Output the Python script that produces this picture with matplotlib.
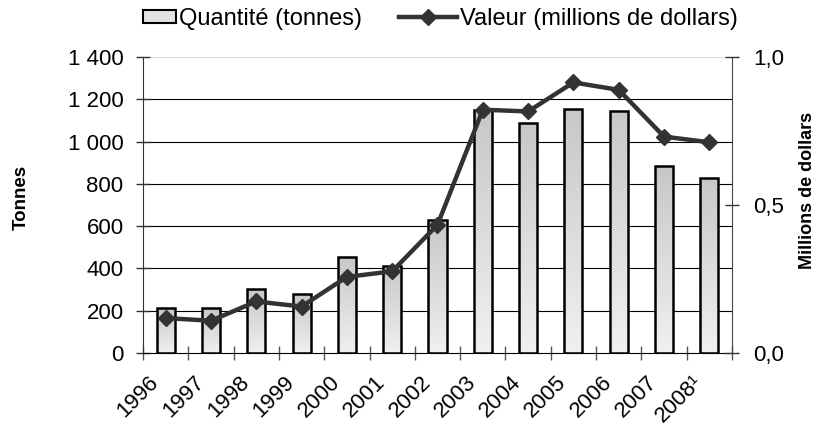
import numpy as np
import matplotlib.pyplot as plt
import matplotlib.transforms as mtransforms
from matplotlib.patches import Rectangle
from matplotlib.lines import Line2D
from matplotlib.legend_handler import HandlerPatch

plt.rcParams['font.family'] = ['Liberation Sans', 'DejaVu Sans']

years = ["1996", "1997", "1998", "1999", "2000", "2001", "2002",
         "2003", "2004", "2005", "2006", "2007", "2008¹"]
tonnes = [212, 215, 302, 280, 455, 412, 628, 1147, 1088, 1155, 1145, 883, 829]
valeur = [0.118, 0.109, 0.174, 0.157, 0.257, 0.276, 0.433,
          0.822, 0.816, 0.914, 0.889, 0.731, 0.712]

fig = plt.figure(figsize=(8.2, 4.33), dpi=100)
ax = fig.add_axes([143 / 820, 80 / 433, 589 / 820, 296 / 433])
ax2 = ax.twinx()

x = np.arange(len(years))
bar_w = 0.40

# bars with a vertical grey gradient (light at the base, darker on top)
grad = np.linspace(0.94, 0.78, 256).reshape(-1, 1)
bars = ax.bar(x, tonnes, width=bar_w, facecolor='none', edgecolor='black',
              linewidth=1.8, zorder=3)
for b in bars:
    x0, y0 = b.get_x(), b.get_y()
    im = ax.imshow(grad, cmap='gray', vmin=0, vmax=1, aspect='auto',
                   origin='lower', extent=(x0, x0 + b.get_width(), y0, y0 + b.get_height()),
                   zorder=2, interpolation='bilinear')
    im.set_clip_path(b)

ax2.plot(x, valeur, color='#333333', linewidth=3.2, marker='D', markersize=8,
         markerfacecolor='#333333', markeredgecolor='#333333', zorder=5)

# left axis
ax.set_xlim(-0.5, len(years) - 0.5)
ax.set_ylim(0, 1400)
ax.set_yticks(np.arange(0, 1401, 200))
ax.set_yticklabels([f"{v:,}".replace(",", " ") for v in range(0, 1401, 200)])
ax.set_axisbelow(True)
ax.yaxis.grid(True, color='black', linewidth=0.8)
ax.get_ygridlines()[-1].set_color('#dddddd')
ax.get_ygridlines()[0].set_visible(False)

ax.set_xticks(x)
ax.set_xticklabels(years, rotation=45, ha='right', va='center', rotation_mode='anchor')
ax.set_xticks(np.arange(-0.5, len(years), 1), minor=True)
ax.tick_params(axis='x', which='major', length=0, pad=19, labelsize=16)
ax.tick_params(axis='x', which='minor', direction='inout', length=10, width=1, color='#555555')
ax.tick_params(axis='y', direction='inout', length=10, width=1, pad=9, labelsize=16, color='#333333')
offset = mtransforms.ScaledTranslation(-0.10, 0, fig.dpi_scale_trans)
for lab in ax.get_xticklabels():
    lab.set_transform(lab.get_transform() + offset)

for s in ['top', 'right']:
    ax.spines[s].set_visible(False)
ax.spines['left'].set_color('#333333')
ax.spines['bottom'].set_color('black')

# right axis
ax2.set_ylim(0, 1.0)
ax2.set_yticks([0, 0.5, 1.0])
ax2.set_yticklabels([f"{v:.1f}".replace(".", ",") for v in [0, 0.5, 1.0]])
ax2.tick_params(axis='y', direction='inout', length=10, width=1, pad=10, labelsize=16, color='#333333')
for s in ['top', 'left', 'bottom']:
    ax2.spines[s].set_visible(False)
ax2.spines['right'].set_color('#444444')

fig.text(21 / 820, 1 - 197 / 433, "Tonnes", rotation=90, fontsize=13.5,
         fontweight='bold', ha='center', va='center')
fig.text(808 / 820, 1 - 190 / 433, "Millions de dollars", rotation=90, fontsize=13,
         fontweight='bold', ha='center', va='center')


def small_rect(legend, orig_handle, xdescent, ydescent, width, height, fontsize):
    w = width * 0.58
    return Rectangle((-xdescent + width - w, -ydescent), w, height)


bar_handle = Rectangle((0, 0), 1, 1, facecolor='#e2e2e2', edgecolor='black', linewidth=1.5)
line_handle = Line2D([], [], color='#333333', linewidth=3.2, marker='D', markersize=8)
fig.legend([bar_handle, line_handle],
           ["Quantité (tonnes)", "Valeur (millions de dollars)"],
           loc='center', bbox_to_anchor=(428 / 820, 1 - 19 / 433), ncol=2,
           frameon=False, fontsize=17, handlelength=2.45, handletextpad=0.1,
           columnspacing=1.6, handleheight=0.5,
           handler_map={Rectangle: HandlerPatch(patch_func=small_rect)})

fig.savefig("out.png", dpi=100)
